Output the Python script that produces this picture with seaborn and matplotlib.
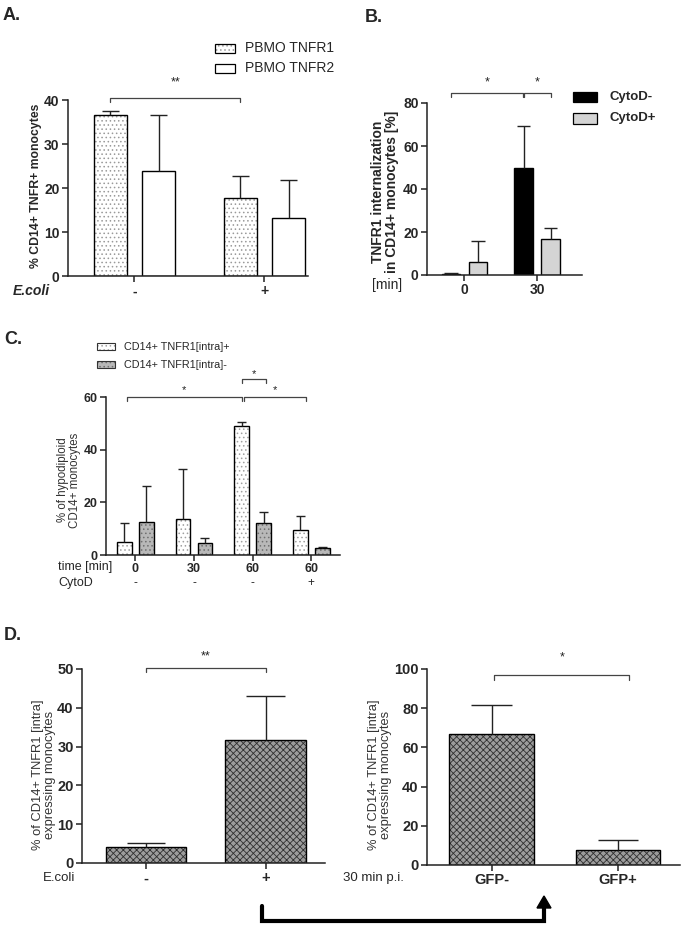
import numpy as np
import pandas as pd
import matplotlib
matplotlib.use("Agg")
import matplotlib.pyplot as plt
import seaborn as sns
from matplotlib.patches import Rectangle, Polygon
from matplotlib.lines import Line2D
from matplotlib.transforms import blended_transform_factory

# ── Data ──────────────────────────────────────────────────────────────────────
# A. TNFR surface expression
A_ecoli = ["-", "+"]
A_series = ["PBMO TNFR1", "PBMO TNFR2"]
A_tnfr1 = [36.7, 17.7]
A_tnfr1_err = [0.7, 5.0]
A_tnfr2 = [23.9, 13.2]
A_tnfr2_err = [12.8, 8.7]

# B. TNFR1 internalization
B_times = ["0", "30"]
B_series = ["CytoD-", "CytoD+"]
B_cytod_neg = [0.5, 49.8]
B_cytod_neg_err = [0.4, 19.4]
B_cytod_pos = [5.9, 16.7]
B_cytod_pos_err = [9.9, 5.0]

# C. hypodiploid monocytes
C_keys = ["0 -", "30 -", "60 -", "60 +"]
C_time_labels = ["0", "30", "60", "60"]
C_cytod_labels = ["-", "-", "-", "+"]
C_series = ["CD14+ TNFR1[intra]+", "CD14+ TNFR1[intra]-"]
C_intra_pos = [5.1, 13.5, 49.0, 9.6]
C_intra_pos_err = [6.9, 19.1, 1.4, 5.3]
C_intra_neg = [12.6, 4.7, 12.3, 2.5]
C_intra_neg_err = [13.5, 1.9, 3.9, 0.7]

# D. TNFR1[intra] expressing monocytes
D1_ecoli = ["-", "+"]
D1_vals = [4.2, 31.6]
D1_err = [1.0, 11.4]
D2_gfp = ["GFP-", "GFP+"]
D2_vals = [67.0, 7.5]
D2_err = [14.6, 5.3]

# ── Style ─────────────────────────────────────────────────────────────────────
W, H = 685, 927
D_FACE, D_HATCH = "#9c9c9c", "#303030"

sns.set_theme(style="ticks")
plt.rcParams["font.family"] = ["Liberation Sans", "DejaVu Sans"]
plt.rcParams["hatch.linewidth"] = 0.6
plt.rcParams["axes.linewidth"] = 1.1

fig = plt.figure(figsize=(W / 100, H / 100), dpi=100)
fig.patch.set_facecolor("white")


def px_axes(x0, x1, ytop, ybot):
    """Axes from pixel box (x left/right, y top/bottom measured from top)."""
    return fig.add_axes([x0 / W, 1 - ybot / H, (x1 - x0) / W, (ybot - ytop) / H])


def ftext(x, y, s, **kw):
    fig.text(x / W, 1 - y / H, s, **kw)


def style_axes(ax, fs, bold=True):
    sns.despine(ax=ax)
    ax.set_facecolor("white")
    ax.grid(False)
    ax.set_xlabel("")
    ax.set_ylabel("")
    for sp in ("left", "bottom"):
        ax.spines[sp].set_color("#222222")
    ax.tick_params(direction="out", length=4, width=1.1, color="#222222",
                   labelsize=fs, pad=2)
    w = "bold" if bold else "normal"
    for lab in ax.get_yticklabels():
        lab.set_fontweight("bold")
    for lab in ax.get_xticklabels():
        lab.set_fontweight(w)


def restyle(ax, container, face, hatch=None, hatch_color="#888888"):
    """Fill bars; hatch drawn underneath a black outline."""
    for p in container:
        p.set_facecolor(face)
        if hatch:
            p.set_hatch(hatch)
            p.set_edgecolor(hatch_color)
            p.set_linewidth(0)
            ax.add_patch(Rectangle(p.get_xy(), p.get_width(), p.get_height(),
                                   fill=False, ec="black", lw=1,
                                   zorder=p.get_zorder() + 0.1))
        else:
            p.set_edgecolor("black")
            p.set_linewidth(1)


def upper_err(ax, container, vals, errs, half):
    xs = np.array([p.get_x() + p.get_width() / 2 for p in container])
    tops = np.array(vals) + np.array(errs)
    ax.vlines(xs, vals, tops, color="#222222", lw=1, zorder=5)
    ax.hlines(tops, xs - half, xs + half, color="#222222", lw=1, zorder=5)
    return xs


def bracket(ax, x1, x2, y, drop, label, ty, fs=9):
    ax.plot([x1, x1, x2, x2], [y - drop, y, y, y - drop], color="#444444",
            lw=0.9, clip_on=False)
    ax.text((x1 + x2) / 2, ty, label, ha="center", va="center", fontsize=fs,
            color="#222222", clip_on=False)


# ── Panel A ───────────────────────────────────────────────────────────────────
dfA = pd.DataFrame({
    "cond": A_ecoli * 2,
    "series": [A_series[0]] * 2 + [A_series[1]] * 2,
    "value": A_tnfr1 + A_tnfr2,
})
axA = px_axes(68, 308, 100, 276)
sns.barplot(data=dfA, x="cond", y="value", hue="series", order=A_ecoli,
            hue_order=A_series, palette=["white", "white"], width=0.746,
            gap=0.32, errorbar=None, legend=False, ax=axA)
restyle(axA, axA.containers[0], "white", "....", "#9a9a9a")
restyle(axA, axA.containers[1], "white")
xa1 = upper_err(axA, axA.containers[0], A_tnfr1, A_tnfr1_err, 0.065)
upper_err(axA, axA.containers[1], A_tnfr2, A_tnfr2_err, 0.065)
axA.set_xlim(-0.51, 1.335)
axA.set_ylim(0, 40)
axA.set_yticks([0, 10, 20, 30, 40])
style_axes(axA, 10)
bracket(axA, xa1[0], xa1[1], 40.45, 0.9, "**", 43.9)

ftext(3, 16, "A.", fontsize=13, fontweight="bold", va="center")
ftext(13, 291, "E.coli", fontsize=10, fontweight="bold", style="italic", va="center")
ftext(36, 186, "% CD14+ TNFR+ monocytes", fontsize=8.8, fontweight="bold",
      rotation=90, ha="center", va="center")
for i, lab in enumerate(A_series):
    y = 48.5 + 20 * i
    fig.add_artist(Rectangle((215 / W, 1 - (y + 4.5) / H), 20 / W, 9 / H,
                             transform=fig.transFigure, facecolor="white",
                             edgecolor="#9a9a9a" if i == 0 else "black",
                             hatch="...." if i == 0 else None,
                             lw=0 if i == 0 else 0.9))
    if i == 0:
        fig.add_artist(Rectangle((215 / W, 1 - (y + 4.5) / H), 20 / W, 9 / H,
                                 transform=fig.transFigure, fill=False,
                                 edgecolor="black", lw=0.9))
    ftext(245, y, lab, fontsize=10, va="center")

# ── Panel B ───────────────────────────────────────────────────────────────────
dfB = pd.DataFrame({
    "time": B_times * 2,
    "series": [B_series[0]] * 2 + [B_series[1]] * 2,
    "value": B_cytod_neg + B_cytod_pos,
})
axB = px_axes(427, 582, 103, 275)
sns.barplot(data=dfB, x="time", y="value", hue="series", order=B_times,
            hue_order=B_series, palette=["black", "#d4d4d4"], width=0.745,
            gap=0.33, errorbar=None, legend=False, ax=axB)
restyle(axB, axB.containers[0], "black")
restyle(axB, axB.containers[1], "#d4d4d4")
xb_neg = upper_err(axB, axB.containers[0], B_cytod_neg, B_cytod_neg_err, 0.09)
xb_pos = upper_err(axB, axB.containers[1], B_cytod_pos, B_cytod_pos_err, 0.09)
axB.set_xlim(-0.517, 1.62)
axB.set_ylim(0, 80)
axB.set_yticks([0, 20, 40, 60, 80])
style_axes(axB, 10)
bracket(axB, xb_neg[0], xb_neg[1] - 0.01, 84.6, 1.9, "*", 89.5)
bracket(axB, xb_neg[1] + 0.01, xb_pos[1], 84.6, 1.9, "*", 89.5)

ftext(365, 18, "B.", fontsize=13, fontweight="bold", va="center")
ftext(372, 285, "[min]", fontsize=10, va="center")
ftext(385, 192, "TNFR1 internalization\nin CD14+ monocytes [%]", fontsize=10,
      fontweight="bold", rotation=90, ha="center", va="center",
      multialignment="center", linespacing=1.05)
for i, (lab, col) in enumerate(zip(B_series, ["black", "#d4d4d4"])):
    y = 97 + 21.5 * i
    fig.add_artist(Rectangle((573 / W, 1 - (y + 5) / H), 24 / W, 10 / H,
                             transform=fig.transFigure, facecolor=col,
                             edgecolor="black", lw=0.9))
    ftext(609, y, lab, fontsize=9.5, fontweight="bold", va="center")

# ── Panel C ───────────────────────────────────────────────────────────────────
dfC = pd.DataFrame({
    "cond": C_keys * 2,
    "series": [C_series[0]] * 4 + [C_series[1]] * 4,
    "value": C_intra_pos + C_intra_neg,
})
axC = px_axes(106, 340, 397, 555)
sns.barplot(data=dfC, x="cond", y="value", hue="series", order=C_keys,
            hue_order=C_series, palette=["white", "#b8b8b8"], width=0.75,
            gap=0.33, errorbar=None, legend=False, ax=axC)
restyle(axC, axC.containers[0], "white", "....", "#a0a0a0")
restyle(axC, axC.containers[1], "#b8b8b8", "....", "#707070")
xc_pos = upper_err(axC, axC.containers[0], C_intra_pos, C_intra_pos_err, 0.077)
xc_neg = upper_err(axC, axC.containers[1], C_intra_neg, C_intra_neg_err, 0.077)
axC.set_xlim(-0.5, 3.49)
axC.set_ylim(0, 60)
axC.set_yticks([0, 20, 40, 60])
axC.set_xticks(range(len(C_keys)))
axC.set_xticklabels(C_time_labels)
style_axes(axC, 9)
bracket(axC, xc_pos[0] + 0.04, xc_pos[2], 60, 1.5, "*", 62.8, fs=8)
bracket(axC, xc_pos[2] + 0.04, xc_pos[3] + 0.1, 60, 1.5, "*", 62.8, fs=8)
bracket(axC, xc_pos[2], xc_neg[2] + 0.04, 66.8, 1.5, "*", 68.8, fs=8)
tr = blended_transform_factory(axC.transData, fig.transFigure)
for i, lab in enumerate(C_cytod_labels):
    axC.text(i, 1 - 583 / H, lab, transform=tr, ha="center", va="center",
             fontsize=8.5)

ftext(4, 340, "C.", fontsize=13, fontweight="bold", va="center")
ftext(58, 567, "time [min]", fontsize=9, va="center")
ftext(58, 583, "CytoD", fontsize=9, va="center")
ftext(69, 480, "% of hypodiploid\nCD14+ monocytes", fontsize=8.3, color="#333333",
      rotation=90, ha="center", va="center", multialignment="center",
      linespacing=1.05)
for i, lab in enumerate(C_series):
    y = 346.5 + 18.5 * i
    face = "white" if i == 0 else "#b8b8b8"
    hc = "#a0a0a0" if i == 0 else "#707070"
    fig.add_artist(Rectangle((97 / W, 1 - (y + 3.5) / H), 18 / W, 7 / H,
                             transform=fig.transFigure, facecolor=face,
                             edgecolor=hc, hatch="....", lw=0))
    fig.add_artist(Rectangle((97 / W, 1 - (y + 3.5) / H), 18 / W, 7 / H,
                             transform=fig.transFigure, fill=False,
                             edgecolor="#333333", lw=0.8))
    ftext(124, y, lab, fontsize=7.8, va="center")

# ── Panel D (left) ────────────────────────────────────────────────────────────
dfD1 = pd.DataFrame({"cond": D1_ecoli, "value": D1_vals})
axD1 = px_axes(82, 325, 669, 863)
sns.barplot(data=dfD1, x="cond", y="value", order=D1_ecoli, color=D_FACE,
            width=0.67, errorbar=None, ax=axD1)
restyle(axD1, axD1.containers[0], D_FACE, "xxxxx", D_HATCH)
xd1 = upper_err(axD1, axD1.containers[0], D1_vals, D1_err, 0.16)
axD1.set_xlim(-0.536, 1.498)
axD1.set_ylim(0, 50)
axD1.set_yticks([0, 10, 20, 30, 40, 50])
style_axes(axD1, 10.5)
bracket(axD1, xd1[0], xd1[1], 50.3, 1.1, "**", 53.2)

ftext(4, 635, "D.", fontsize=13, fontweight="bold", va="center")
ftext(43, 878, "E.coli", fontsize=9.5, va="center")
ftext(44, 775, "% of CD14+ TNFR1 [intra]\nexpressing monocytes", fontsize=9.3,
      color="#333333", rotation=90, ha="center", va="center",
      multialignment="center", linespacing=1.0)

# ── Panel D (right) ───────────────────────────────────────────────────────────
dfD2 = pd.DataFrame({"cond": D2_gfp, "value": D2_vals})
axD2 = px_axes(427, 680, 669, 865)
sns.barplot(data=dfD2, x="cond", y="value", order=D2_gfp, color=D_FACE,
            width=0.67, errorbar=None, ax=axD2)
restyle(axD2, axD2.containers[0], D_FACE, "xxxxx", D_HATCH)
xd2 = upper_err(axD2, axD2.containers[0], D2_vals, D2_err, 0.16)
axD2.set_xlim(-0.51, 1.49)
axD2.set_ylim(0, 100)
axD2.set_yticks([0, 20, 40, 60, 80, 100])
style_axes(axD2, 10.5)
bracket(axD2, xd2[0] + 0.02, xd2[1] + 0.09, 96.9, 2.5, "*", 106)

ftext(343, 878, "30 min p.i.", fontsize=9.5, va="center")
ftext(380, 775, "% of CD14+ TNFR1 [intra]\nexpressing monocytes", fontsize=9.3,
      color="#333333", rotation=90, ha="center", va="center",
      multialignment="center", linespacing=1.0)

# ── Connecting arrow ──────────────────────────────────────────────────────────
fig.add_artist(Line2D([262 / W, 262 / W, 544 / W, 544 / W],
                      [1 - 906 / H, 1 - 921 / H, 1 - 921 / H, 1 - 905 / H],
                      transform=fig.transFigure, color="black", lw=3,
                      solid_joinstyle="miter"))
fig.add_artist(Polygon([[544 / W, 1 - 896 / H], [537 / W, 1 - 908 / H],
                        [551 / W, 1 - 908 / H]], closed=True,
                       transform=fig.transFigure, color="black"))

fig.savefig("out.png", dpi=100, facecolor="white")
